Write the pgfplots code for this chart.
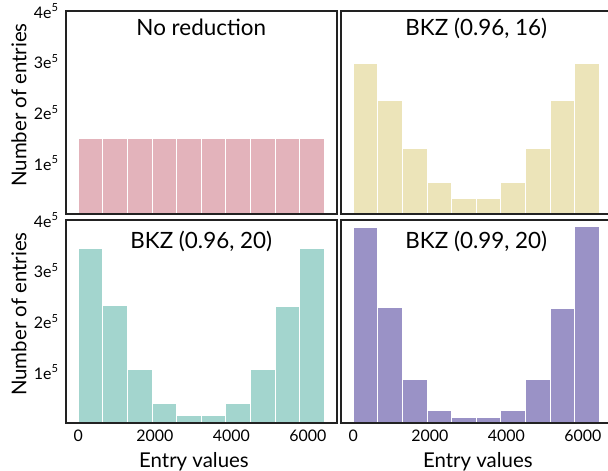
\documentclass[border=0pt]{standalone}
\usepackage{pgfplots}
\pgfplotsset{compat=1.18}
\usepackage{fontspec}
\setmainfont{Lato}
\definecolor{cpink}{RGB}{227,179,187}
\definecolor{cyellow}{RGB}{236,228,185}
\definecolor{cteal}{RGB}{163,213,206}
\definecolor{cpurple}{RGB}{154,146,198}
\definecolor{cframe}{RGB}{34,34,34}
\tikzset{
  ttl/.style={font=\fontsize{22.5}{26}\selectfont, anchor=base},
  lab/.style={font=\fontsize{20.5}{24}\selectfont},
}
\pgfplotsset{
  panel/.style={
    scale only axis, width=270.5bp, height=202.7bp,
    xmin=-321.5, xmax=6751.5, ymin=0, ymax=400000,
    axis on top, axis line style={line width=2bp, cframe},
    major tick length=0pt,
    /pgf/number format/assume math mode=true,
    ytick={100000,200000,300000,400000},
    yticklabels={1e\textsuperscript{5},2e\textsuperscript{5},3e\textsuperscript{5},4e\textsuperscript{5}},
    xtick={0,2000,4000,6000},
    xticklabels={0,2000,4000,6000},
    tick label style={font=\fontsize{16}{18}\selectfont},
    yticklabel style={xshift=-4bp},
    xticklabel style={yshift=-4bp},
    scaled y ticks=false,
  },
  bars/.style={ybar interval, fill=#1, draw=white, line width=1bp},
}
\begin{document}
\begin{tikzpicture}[x=1bp,y=1bp]
\clip (0,0) rectangle (608,471);
% top left
\begin{axis}[panel, at={(66bp,460bp)}, anchor=north west,
  xticklabels={},
  ylabel={Number of entries}, ylabel style={lab, at={(axis description cs:-0.174,0.536)}, anchor=center}]
\addplot[bars=cpink] coordinates {(0,147500) (643,148000) (1286,148000) (1929,147700) (2572,148300) (3215,148300) (3858,148700) (4501,148300) (5144,148000) (5787,147500) (6430,0)};
\node[ttl] at (rel axis cs:0.5,0.877) {No reduction};
\end{axis}
% top right
\begin{axis}[panel, at={(341bp,460bp)}, anchor=north west,
  xticklabels={}, yticklabels={}]
\addplot[bars=cyellow] coordinates {(0,296800) (643,223000) (1286,129600) (1929,61200) (2572,30400) (3215,30400) (3858,61200) (4501,129000) (5144,223000) (5787,295400) (6430,0)};
\node[ttl] at (rel axis cs:0.5,0.877) {BKZ (0.96, 16)};
\end{axis}
% bottom left
\begin{axis}[panel, at={(66bp,251bp)}, anchor=north west,
  ylabel={Number of entries}, ylabel style={lab, at={(axis description cs:-0.174,0.536)}, anchor=center},
  xlabel={Entry values}, xlabel style={lab, at={(axis description cs:0.473,-0.222)}, anchor=base}]
\addplot[bars=cteal] coordinates {(0,343300) (643,230300) (1286,105400) (1929,36900) (2572,14600) (3215,14600) (3858,36900) (4501,105400) (5144,229000) (5787,343300) (6430,0)};
\node[ttl] at (rel axis cs:0.5,0.857) {BKZ (0.96, 20)};
\end{axis}
% bottom right
\begin{axis}[panel, at={(341bp,251bp)}, anchor=north west,
  yticklabels={},
  xlabel={Entry values}, xlabel style={lab, at={(axis description cs:0.506,-0.222)}, anchor=base}]
\addplot[bars=cpurple] coordinates {(0,385600) (643,227700) (1286,84300) (1929,23700) (2572,10700) (3215,10700) (3858,23700) (4501,84300) (5144,226300) (5787,386700) (6430,0)};
\node[ttl] at (rel axis cs:0.5,0.857) {BKZ (0.99, 20)};
\end{axis}
\end{tikzpicture}
\end{document}
